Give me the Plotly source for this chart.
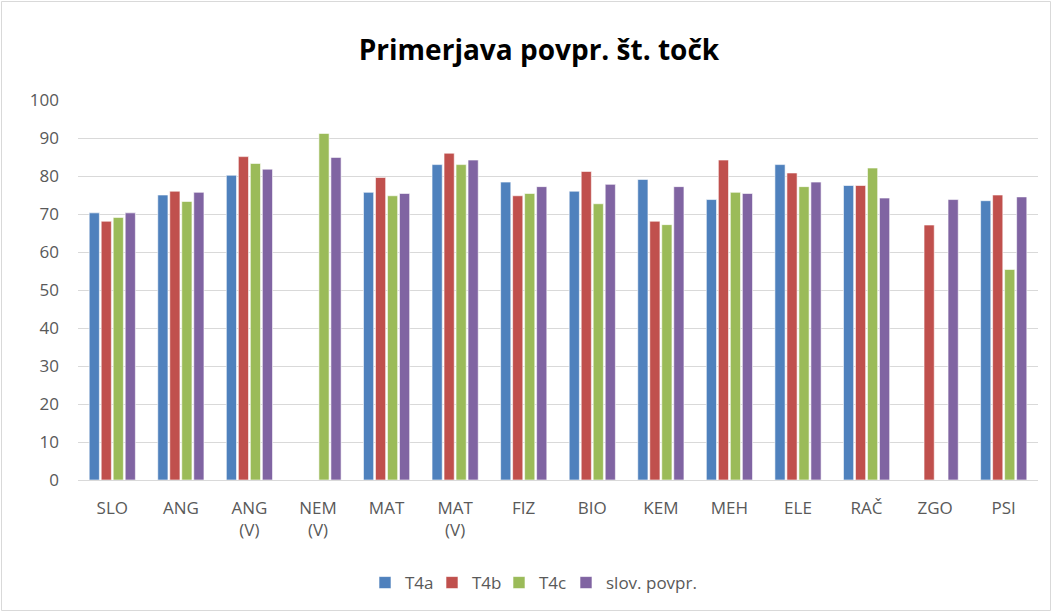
import plotly.graph_objects as go

categories = ["SLO", "ANG", "ANG<br>(V)", "NEM<br>(V)", "MAT", "MAT<br>(V)", "FIZ", "BIO",
              "KEM", "MEH", "ELE", "RAČ", "ZGO", "PSI"]
t4a = [70.3, 75.0, 80.2, None, 75.7, 83.0, 78.4, 76.0, 79.1, 73.8, 83.0, 77.5, None, 73.5]
t4b = [68.1, 76.0, 85.1, None, 79.6, 86.0, 74.8, 81.2, 68.1, 84.2, 80.8, 77.5, 67.1, 75.0]
t4c = [69.1, 73.3, 83.3, 91.2, 74.8, 83.0, 75.4, 72.7, 67.2, 75.7, 77.2, 82.1, None, 55.4]
slov = [70.3, 75.7, 81.8, 84.9, 75.4, 84.2, 77.2, 77.8, 77.2, 75.4, 78.4, 74.2, 73.8, 74.5]

series = [("T4a", t4a, "#4F81BD"), ("T4b", t4b, "#C0504D"),
          ("T4c", t4c, "#9BBB59"), ("slov. povpr.", slov, "#8064A2")]

FONT = "Open Sans, Segoe UI, sans-serif"

fig = go.Figure()
for i, (name, vals, col) in enumerate(series):
    fig.add_trace(go.Bar(x=categories, y=vals, name=name,
                         legendwidth=(22 if i < 3 else 110),
                         marker=dict(color=col, line=dict(color="white", width=0.6))))

W, H = 1052, 612
l, r, t, b = 78, 14, 100, 132
pw, ph = W - l - r, H - t - b

def px(x):
    return (x - l) / pw

def py(y):
    return (H - b - y) / ph

fig.update_layout(
    width=W, height=H,
    margin=dict(l=l, r=r, t=t, b=b, autoexpand=False),
    paper_bgcolor="white", plot_bgcolor="white",
    font=dict(family=FONT, color="#595959", size=17),
    title=dict(text="<b>Primerjava povpr. št. točk</b>", x=539 / W, xanchor="center",
               y=1 - 50 / H, yanchor="middle",
               font=dict(size=28, color="black", family=FONT)),
    barmode="group", bargap=0.30, bargroupgap=0.15,
    showlegend=True,
    legend=dict(orientation="h", x=px(543), xanchor="center", y=py(583), yanchor="middle",
                font=dict(size=17, color="#595959", family=FONT), itemwidth=30,
                traceorder="normal"),
    xaxis=dict(showgrid=False, ticks="", tickfont=dict(size=17, color="#595959"),
               showline=False, ticklabelstandoff=16, automargin=False),
    yaxis=dict(range=[0, 100], dtick=10, showgrid=True, gridcolor="#D9D9D9", gridwidth=1,
               zeroline=True, zerolinecolor="#D9D9D9", zerolinewidth=1,
               ticks="", tickfont=dict(size=17, color="#595959"), ticklabelstandoff=18,
               automargin=False),
    shapes=[dict(type="rect", xref="paper", yref="paper",
                 x0=px(1.5), x1=px(W - 1.5), y0=py(H - 1.5), y1=py(1.5),
                 line=dict(color="#D9D9D9", width=1), layer="below")],
)

fig.write_html("out.html", config={"displayModeBar": False},
               post_script="document.body.style.margin='0';document.body.style.overflow='hidden';")
